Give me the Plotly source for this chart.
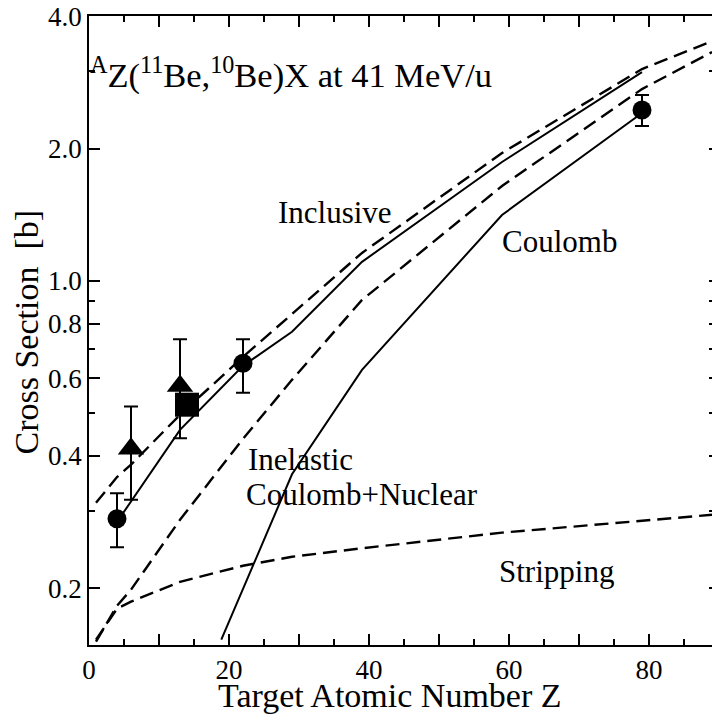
import plotly.graph_objects as go

# ---------------- data ----------------
# theory curves (Z, cross section in barn)
incl_solid_z = [4, 6, 13, 22, 29, 39, 59, 79]
incl_solid_v = [0.283, 0.315, 0.4585, 0.641, 0.766, 1.105, 1.864, 2.985]

incl_dash_z = [1, 4, 6, 13, 22, 29, 39, 59, 79, 89]
incl_dash_v = [0.313, 0.358, 0.382, 0.496, 0.672, 0.841, 1.158, 1.954, 3.033, 3.51]

inel_z = [1, 4, 6, 13, 22, 29, 39, 59, 79, 89]
inel_v = [0.1512, 0.1825, 0.1985, 0.2862, 0.4375, 0.5957, 0.905, 1.644, 2.731, 3.315]

strip_z = [1, 4, 6, 13, 22, 29, 39, 59, 79, 89]
strip_v = [0.1528, 0.1797, 0.1865, 0.2069, 0.2250, 0.2359, 0.2466, 0.2676, 0.2848, 0.2938]

coul_z = [18.9, 29, 39, 59, 79]
coul_v = [0.1528, 0.3633, 0.6276, 1.4125, 2.409]

# measured points
circ_z = [4, 22, 79]
circ_v = [0.2877, 0.650, 2.447]
circ_hi = [0.329, 0.737, 2.647]
circ_lo = [0.248, 0.557, 2.25]

tri_z = [6, 13]
tri_v = [0.415, 0.577]
tri_hi = [0.518, 0.737]
tri_lo = [0.318, 0.439]

sq_z = [14]
sq_v = [0.523]

x_ticks = [0, 20, 40, 60, 80]
x_ticktext = ["0", "20", "40", "60", "80"]
x_mid_ticks = [10, 30, 50, 70]
x_minor = [5, 15, 25, 35, 45, 55, 65, 75, 85]
y_ticks = [0.2, 0.4, 0.6, 0.8, 1.0, 2.0, 4.0]
y_ticktext = ["0.2", "0.4", "0.6", "0.8", "1.0", "2.0", "4.0"]
y_minor = [0.3, 0.5, 0.7, 0.9, 3.0]

# ---------------- figure ----------------
W, H = 712, 715
L, R, T, B = 89, 0, 16, 70
FONT = "Liberation Serif, Times New Roman, serif"


def pxx(px):
    return (px - L) / (W - L - R)


def pxy(py):
    return (H - B - py) / (H - T - B)


fig = go.Figure()
lw_solid = 2
lw_dash = 2.4
dash = "14px,7px"
fig.add_trace(go.Scatter(x=incl_dash_z, y=incl_dash_v, mode="lines",
                         line=dict(color="black", width=lw_dash, dash=dash)))
fig.add_trace(go.Scatter(x=incl_solid_z, y=incl_solid_v, mode="lines",
                         line=dict(color="black", width=lw_solid)))
fig.add_trace(go.Scatter(x=inel_z, y=inel_v, mode="lines",
                         line=dict(color="black", width=lw_dash, dash=dash)))
fig.add_trace(go.Scatter(x=strip_z, y=strip_v, mode="lines",
                         line=dict(color="black", width=lw_dash, dash=dash)))
fig.add_trace(go.Scatter(x=coul_z, y=coul_v, mode="lines",
                         line=dict(color="black", width=lw_solid)))

fig.add_trace(go.Scatter(
    x=circ_z, y=circ_v, mode="markers",
    marker=dict(symbol="circle", size=19, color="black"),
    error_y=dict(type="data", symmetric=False,
                 array=[h - v for h, v in zip(circ_hi, circ_v)],
                 arrayminus=[v - l for l, v in zip(circ_lo, circ_v)],
                 color="black", thickness=2, width=7)))
fig.add_trace(go.Scatter(
    x=tri_z, y=tri_v, mode="markers",
    marker=dict(symbol="triangle-up", size=23, color="black"),
    error_y=dict(type="data", symmetric=False,
                 array=[h - v for h, v in zip(tri_hi, tri_v)],
                 arrayminus=[v - l for l, v in zip(tri_lo, tri_v)],
                 color="black", thickness=2, width=7)))
fig.add_trace(go.Scatter(
    x=sq_z, y=sq_v, mode="markers",
    marker=dict(symbol="square", size=24, color="black")))

# invisible traces carrying the extra tick-only axes
fig.add_trace(go.Scatter(x=[10], y=[1], yaxis="y2", mode="markers",
                         marker=dict(opacity=0), hoverinfo="skip"))
fig.add_trace(go.Scatter(x=[10], y=[1], xaxis="x2", mode="markers",
                         marker=dict(opacity=0), hoverinfo="skip"))

yr = [-0.828, 0.6025]
xr = [0, 89]
fig.update_layout(
    width=W, height=H,
    margin=dict(l=L, r=R, t=T, b=B),
    paper_bgcolor="white", plot_bgcolor="white",
    showlegend=False,
    font=dict(family=FONT, color="black", size=27),
    xaxis=dict(range=xr, showgrid=False, zeroline=False,
               showline=True, linecolor="black", linewidth=1.5, mirror="ticks",
               ticks="inside", ticklen=11, tickwidth=1.5, tickcolor="black",
               tickmode="array", tickvals=x_ticks, ticktext=x_ticktext,
               tickfont=dict(family=FONT, size=27),
               minor=dict(tickmode="array", tickvals=x_minor, ticks="inside",
                          ticklen=6, tickwidth=1.5, tickcolor="black")),
    xaxis2=dict(range=xr, overlaying="x", anchor="y", side="bottom",
                showgrid=False, zeroline=False, showline=False, mirror="ticks",
                ticks="inside", ticklen=11, tickwidth=1.5, tickcolor="black",
                tickmode="array", tickvals=x_mid_ticks, showticklabels=False),
    yaxis=dict(type="log", range=yr, showgrid=False, zeroline=False,
               showline=True, linecolor="black", linewidth=1.5,
               ticks="inside", ticklen=11, tickwidth=1.5, tickcolor="black",
               tickmode="array", tickvals=y_ticks, ticktext=y_ticktext,
               tickfont=dict(family=FONT, size=27),
               minor=dict(tickmode="array", tickvals=y_minor, ticks="inside",
                          ticklen=6, tickwidth=1.5, tickcolor="black")),
    yaxis2=dict(type="log", range=yr, overlaying="y", side="right", anchor="x",
                showgrid=False, zeroline=False, showline=False,
                ticks="inside", ticklen=3, tickwidth=1.5, tickcolor="black",
                tickmode="array", tickvals=y_ticks + y_minor,
                showticklabels=False),
)

ann = [
    dict(text="<sup>A</sup>Z(<sup>11</sup>Be,<sup>10</sup>Be)X at 41 MeV/u",
         x=pxx(88), y=pxy(73), xanchor="left", yanchor="middle", size=34.5),
    dict(text="Inclusive", x=pxx(276), y=pxy(212.5), xanchor="left", yanchor="middle", size=31),
    dict(text="Coulomb", x=pxx(500), y=pxy(241), xanchor="left", yanchor="middle", size=31),
    dict(text="Inelastic", x=pxx(246), y=pxy(460), xanchor="left", yanchor="middle", size=31),
    dict(text="Coulomb+Nuclear", x=pxx(244), y=pxy(494), xanchor="left", yanchor="middle", size=31),
    dict(text="Stripping", x=pxx(497), y=pxy(571), xanchor="left", yanchor="middle", size=31),
    dict(text="Target Atomic Number Z", x=pxx(389.6), y=pxy(695), xanchor="center",
         yanchor="middle", size=34),
]
for a in ann:
    fig.add_annotation(text=a["text"], x=a["x"], y=a["y"], xref="paper", yref="paper",
                       xanchor=a["xanchor"], yanchor=a["yanchor"], showarrow=False,
                       font=dict(family=FONT, size=a["size"], color="black"))
fig.add_annotation(text="Cross Section\u00a0\u00a0[b]", x=pxx(26.5), y=pxy(332),
                   xref="paper", yref="paper", xanchor="center", yanchor="middle",
                   textangle=-90, showarrow=False,
                   font=dict(family=FONT, size=34, color="black"))

fig.write_html("out.html")
